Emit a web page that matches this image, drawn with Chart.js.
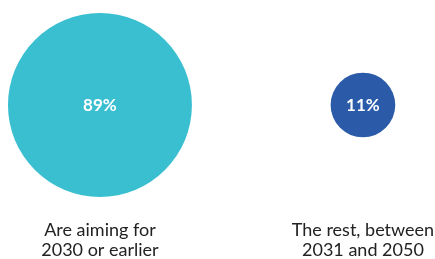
<!DOCTYPE html>
<html>
<head>
<meta charset="utf-8">
<script src="https://cdn.jsdelivr.net/npm/chart.js@4/dist/chart.umd.min.js"></script>
<style>
  html, body { margin: 0; padding: 0; background: #fff; }
  #wrap { width: 435px; height: 259px; }
</style>
</head>
<body>
<div id="wrap"><canvas id="goalChart"></canvas></div>
<script>
// categories (each one split into label lines) and their share in percent
const categories = [
  ['Are aiming for', '2030 or earlier'],
  ['The rest, between', '2031 and 2050']
];
const shares = [89, 11];
const colors = ['#3abfd1', '#2b5ba8'];

// bubble area follows the share
const radiusScale = 9.75;

// percent value in the middle of each bubble, category text under it
const bubbleText = {
  id: 'bubbleText',
  afterDatasetsDraw(chart) {
    const ctx = chart.ctx;
    const meta = chart.getDatasetMeta(0);
    const area = chart.chartArea;
    ctx.save();
    ctx.textAlign = 'center';

    ctx.fillStyle = '#ffffff';
    ctx.font = 'bold 17px Lato, "Open Sans", sans-serif';
    ctx.textBaseline = 'middle';
    meta.data.forEach((el, i) => {
      ctx.fillText(shares[i] + '%', el.x, el.y + 1);
    });

    ctx.fillStyle = '#222222';
    ctx.font = '18px Lato, "Open Sans", sans-serif';
    ctx.textBaseline = 'alphabetic';
    meta.data.forEach((el, i) => {
      categories[i].forEach((line, j) => {
        ctx.fillText(line, el.x, area.bottom + 26 + j * 20);
      });
    });
    ctx.restore();
  }
};

new Chart(document.getElementById('goalChart'), {
  type: 'bubble',
  data: {
    datasets: [{
      data: shares.map((v, i) => ({ x: i, y: 0, r: radiusScale * Math.sqrt(v) })),
      backgroundColor: colors,
      borderWidth: 0,
      hoverBorderWidth: 0
    }]
  },
  options: {
    responsive: true,
    maintainAspectRatio: false,
    animation: false,
    clip: false,
    layout: { autoPadding: false, padding: { left: 0, right: 0, top: 0, bottom: 49 } },
    plugins: {
      legend: { display: false },
      tooltip: { enabled: false }
    },
    scales: {
      x: {
        type: 'linear',
        display: false,
        min: -0.38,
        max: 1.274
      },
      y: {
        display: false,
        min: -1,
        max: 1
      }
    }
  },
  plugins: [bubbleText]
});
</script>
</body>
</html>
